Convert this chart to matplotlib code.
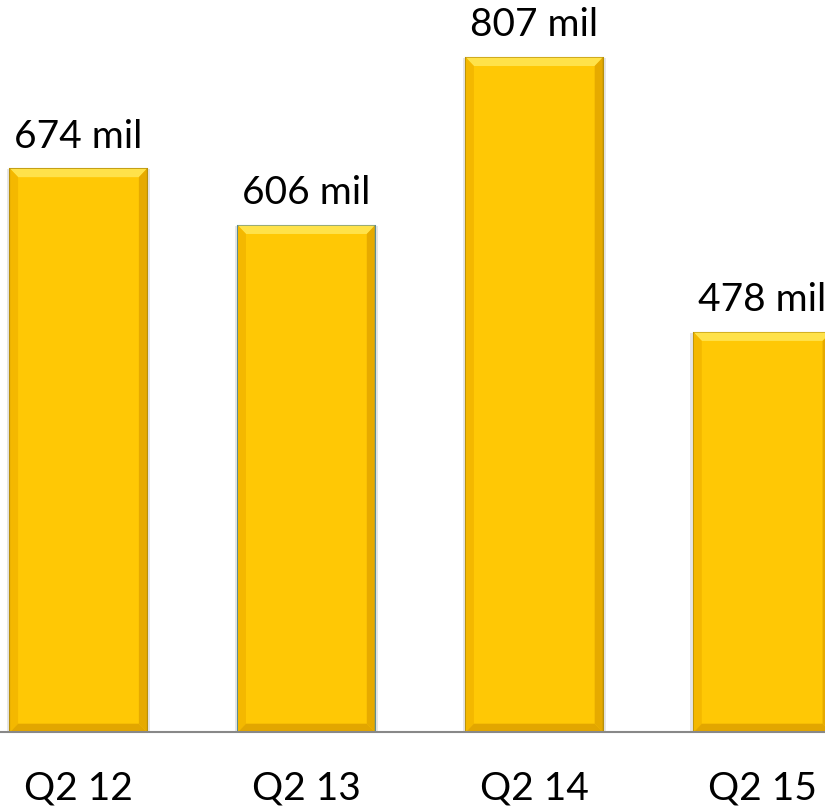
import matplotlib.pyplot as plt
from matplotlib.patches import Polygon

quarters = ["Q2 12", "Q2 13", "Q2 14", "Q2 15"]
values = [674, 606, 807, 478]
labels = ["674 mil", "606 mil", "807 mil", "478 mil"]
edge_colors = ["#B8900A", "#5E8C90", "#B8900A", "#B8900A"]

plt.rcParams['font.family'] = ['Lato', 'DejaVu Sans']

fig = plt.figure(figsize=(8.25, 8.08), dpi=100)
ax = fig.add_axes([-0.043, 0.094, 1.105, 0.906])

width = 0.6
bars = ax.bar(range(len(values)), values, width=width, color="#FFC805",
              edgecolor=edge_colors, linewidth=1.5, zorder=3)

# bevel look: light top strip, darker sides
bx, by = 0.035, 10
for b in bars:
    x0, x1 = b.get_x(), b.get_x() + b.get_width()
    top = b.get_height()
    ax.add_patch(Polygon([(x0, top), (x1, top), (x1 - bx, top - by), (x0 + bx, top - by)],
                         closed=True, color="#FFE24A", lw=0, zorder=4))
    ax.add_patch(Polygon([(x0, top), (x0 + bx, top - by), (x0 + bx, by), (x0, 0)],
                         closed=True, color="#F4B800", lw=0, zorder=4))
    ax.add_patch(Polygon([(x1, top), (x1 - bx, top - by), (x1 - bx, by), (x1, 0)],
                         closed=True, color="#E6AA00", lw=0, zorder=4))
    ax.add_patch(Polygon([(x0, 0), (x1, 0), (x1 - bx, by), (x0 + bx, by)],
                         closed=True, color="#E2A600", lw=0, zorder=4))
    ax.bar(b.get_x() + b.get_width() / 2, top, width=b.get_width() + 0.03,
           color="#E6E6E6", zorder=2)

for i, v in enumerate(values):
    ax.text(i, v + 17, labels[i], ha="center", va="bottom", fontsize=28, color="black")

ax.set_xlim(-0.5, 3.5)
ax.set_ylim(0, 876)
ax.set_xticks(range(len(quarters)))
ax.set_xticklabels(quarters, fontsize=28)
ax.tick_params(axis="x", length=0, pad=28)
ax.set_yticks([])
for s in ["top", "left", "right"]:
    ax.spines[s].set_visible(False)
ax.spines["bottom"].set_color("#888888")
ax.spines["bottom"].set_linewidth(1.5)
ax.spines["bottom"].set_zorder(5)

fig.savefig("out.png", dpi=100)
